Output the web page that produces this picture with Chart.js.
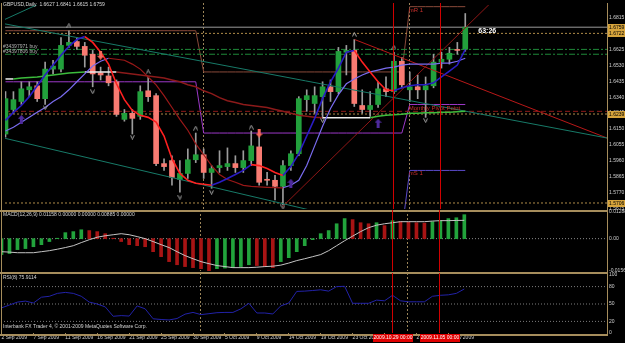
<!DOCTYPE html>
<html>
<head>
<meta charset="utf-8">
<script src="https://cdn.jsdelivr.net/npm/chart.js@4.4.0/dist/chart.umd.min.js"></script>
<style>
  html, body { margin: 0; padding: 0; background: #000; }
  #wrap { position: relative; width: 625px; height: 343px; overflow: hidden; background: #000; }
  #wrap canvas { position: absolute; left: 0; top: 0; }
</style>
</head>
<body>
<div id="wrap">
  <canvas id="priceChart" width="625" height="343"></canvas>
  <canvas id="macdChart" width="625" height="343"></canvas>
  <canvas id="rsiChart" width="625" height="343"></canvas>
</div>
<script>
// GBPUSD daily candles, 2 Sep 2009 .. 9 Nov 2009 (one slot per bar, Sunday bars included)
const opens = [1.6119,1.6266,1.6314,1.6384,1.6408,1.6331,1.6508,1.6508,1.6650,1.6673,
  1.6644,1.6597,1.6485,1.6467,1.6432,1.6207,1.6243,1.6225,1.6378,1.6349,
  1.5942,1.5960,1.5847,1.5883,1.5965,1.5995,1.5889,1.5918,1.5924,1.5942,
  1.5918,1.5960,1.6042,1.5847,1.5842,1.5806,1.5930,1.6001,1.6325,1.6302,
  1.6343,1.6402,1.6373,1.6609,1.6620,1.6290,1.6266,1.6296,1.6390,1.6373,
  1.6555,1.6384,1.6402,1.6384,1.6408,1.6550,1.6567,1.6626,1.6627];
const highs = [1.6373,1.6373,1.6432,1.6432,1.6432,1.6550,1.6561,1.6697,1.6738,1.6697,
  1.6668,1.6620,1.6520,1.6520,1.6443,1.6266,1.6266,1.6408,1.6461,1.6361,
  1.5971,1.5989,1.5960,1.6030,1.6125,1.6030,1.5930,1.6019,1.6036,1.5989,
  1.6019,1.6137,1.6119,1.5889,1.5871,1.5960,1.6019,1.6343,1.6384,1.6402,
  1.6432,1.6443,1.6638,1.6650,1.6685,1.6384,1.6373,1.6432,1.6461,1.6609,
  1.6579,1.6491,1.6473,1.6461,1.6597,1.6609,1.6638,1.6668,1.6841];
const lows = [1.6101,1.6243,1.6296,1.6343,1.6314,1.6296,1.6479,1.6491,1.6638,1.6626,
  1.6520,1.6402,1.6443,1.6408,1.6225,1.6196,1.6119,1.6207,1.6314,1.5930,
  1.5901,1.5812,1.5771,1.5853,1.5948,1.5853,1.5794,1.5889,1.5901,1.5889,
  1.5889,1.5930,1.5812,1.5812,1.5724,1.5694,1.5901,1.5989,1.6255,1.6243,
  1.6213,1.6314,1.6361,1.6473,1.6284,1.6243,1.6225,1.6278,1.6343,1.6361,
  1.6396,1.6314,1.6331,1.6219,1.6396,1.6514,1.6538,1.6597,1.6615];
const closes = [1.6331,1.6325,1.6390,1.6402,1.6331,1.6508,1.6526,1.6650,1.6668,1.6644,
  1.6591,1.6479,1.6473,1.6426,1.6237,1.6243,1.6213,1.6373,1.6343,1.5942,
  1.5924,1.5859,1.5883,1.5965,1.5995,1.5889,1.5912,1.5930,1.5942,1.5918,
  1.5960,1.6048,1.5830,1.5842,1.5806,1.5930,1.6001,1.6331,1.6349,1.6349,
  1.6402,1.6373,1.6614,1.6620,1.6302,1.6266,1.6290,1.6390,1.6373,1.6555,
  1.6414,1.6402,1.6384,1.6408,1.6550,1.6567,1.6603,1.6620,1.6759];

// moving averages
const fastMa = [1.6201,1.6249,1.6290,1.6343,1.6408,1.6473,1.6532,1.6591,1.6644,1.6685,
  1.6703,1.6668,1.6609,1.6538,1.6420,1.6325,1.6260,1.6231,1.6219,1.6190,
  1.6107,1.5971,1.5883,1.5842,1.5824,1.5818,1.5812,1.5830,1.5853,1.5877,
  1.5901,1.5936,1.5930,1.5912,1.5889,1.5871,1.5924,1.6001,1.6107,1.6213,
  1.6331,1.6432,1.6514,1.6609,1.6620,1.6550,1.6491,1.6432,1.6384,1.6378,
  1.6396,1.6408,1.6414,1.6414,1.6426,1.6461,1.6496,1.6532,1.6626];
const midMa = [1.6137,1.6160,1.6190,1.6219,1.6249,1.6278,1.6314,1.6343,1.6384,1.6432,
  1.6479,1.6526,1.6555,1.6573,1.6567,1.6561,1.6538,1.6508,1.6461,1.6414,
  1.6349,1.6278,1.6207,1.6142,1.6060,1.5995,1.5930,1.5877,1.5847,1.5830,
  1.5812,1.5806,1.5803,1.5800,1.5798,1.5797,1.5812,1.5842,1.5930,1.6048,
  1.6166,1.6272,1.6355,1.6420,1.6449,1.6473,1.6491,1.6502,1.6514,1.6520,
  1.6532,1.6538,1.6538,1.6538,1.6538,1.6544,1.6544,1.6555,1.6573];
const slowMa = [1.6449,1.6449,1.6455,1.6458,1.6461,1.6467,1.6473,1.6479,1.6485,1.6488,
  1.6491,1.6491,1.6491,1.6491,1.6491,1.6485,1.6479,1.6473,1.6467,1.6461,
  1.6455,1.6443,1.6432,1.6414,1.6402,1.6378,1.6361,1.6337,1.6319,1.6308,
  1.6296,1.6290,1.6284,1.6278,1.6266,1.6255,1.6243,1.6231,1.6225,1.6219,
  1.6216,1.6216,1.6216,1.6216,1.6216,1.6216,1.6216,1.6225,1.6231,1.6234,
  1.6237,1.6243,1.6244,1.6246,1.6247,1.6249,1.6250,1.6252,1.6255];

// fractals and signal arrows (bar index, price)
const fracUpIdx = [8, 18, 24, 31, 44, 49];
const fracUpPrice = [1.6768, 1.6491, 1.6154, 1.6160, 1.6715, 1.6638];
const fracDownIdx = [5, 11, 16, 22, 26, 35, 40, 53];
const fracDownPrice = [1.6278, 1.6373, 1.6101, 1.5741, 1.5771, 1.5682, 1.6201, 1.6201];
const sellIdx = [12, 32];
const sellPrice = [1.6591, 1.6125];
const buyIdx = [2, 36, 47];
const buyPrice = [1.6207, 1.5824, 1.6184];

// monthly pivot levels: Sep, Oct, Nov
const monthStarts = [0, 25, 51];
const mR1 = [1.6738, 1.6491, 1.6882];
const mPivot = [1.6432, 1.6125, 1.6296];
const mS1 = [null, 1.5540, 1.5901];

// horizontal levels
const bidPrice = 1.6759;
const dottedLevels = [1.6722, 1.6239, 1.5706];
const orderLevels = [1.6626, 1.6597];
const orderNames = ['#34397971 buy', '#34397806 buy'];
const stopLevel = 1.6255;
const priceBoxes = [1.6722, 1.6239, 1.5706, 1.6759];

// trend lines: [[barIndex, price], [barIndex, price]]
const tealLines = [
  [[-0.2, 1.6780], [75.9, 1.6095]],
  [[-0.2, 1.6803], [4.45, 1.6904]],
  [[-0.2, 1.6095], [38.3, 1.5665]]
];
const riseLine = [[34.9, 1.5682], [61.2, 1.6904]];
const fallLine = [[44.05, 1.6685], [75.9, 1.6095]];

// vertical red lines
const vlineIdx = [49, 55];
const vlineNames = ['2009.10.29 00:00', '2009.11.05 00:00'];

// MACD(12,26,9)
const macdHist = [-0.0077,-0.0072,-0.0053,-0.0048,-0.0039,-0.0029,-0.0014,0.0002,0.0029,0.0034,
  0.0043,0.0039,0.0034,0.0024,0.0002,-0.0014,-0.0029,-0.0034,-0.0039,-0.0063,
  -0.0087,-0.0111,-0.0126,-0.0135,-0.0140,-0.0145,-0.0156,-0.0145,-0.0142,-0.0140,
  -0.0135,-0.0126,-0.0130,-0.0135,-0.0140,-0.0111,-0.0092,-0.0063,-0.0034,-0.0005,
  0.0024,0.0039,0.0072,0.0097,0.0092,0.0077,0.0072,0.0077,0.0063,0.0087,
  0.0082,0.0080,0.0077,0.0075,0.0082,0.0087,0.0097,0.0101,0.01158];
const macdSignal = [-0.0063,-0.0065,-0.0068,-0.0068,-0.0068,-0.0063,-0.0058,-0.0051,-0.0043,-0.0034,
  -0.0019,-0.0005,0.0007,0.0014,0.0019,0.0024,0.0019,0.0010,0.0000,-0.0014,
  -0.0029,-0.0043,-0.0063,-0.0082,-0.0097,-0.0111,-0.0121,-0.0130,-0.0135,-0.0140,
  -0.0140,-0.0140,-0.0138,-0.0135,-0.0133,-0.0128,-0.0118,-0.0106,-0.0097,-0.0087,
  -0.0077,-0.0058,-0.0034,-0.0010,0.0012,0.0034,0.0053,0.0065,0.0072,0.0077,
  0.0082,0.0082,0.0082,0.0082,0.0085,0.0087,0.0087,0.0088,0.00885];
const macdTicks = [0.01288, 0, -0.01563];

// RSI(8)
const rsi = [43.3,48.3,53.3,55,51.7,61.7,63.3,68.3,70,68.3,
  63.3,53.3,50,45,28.8,30,29.2,46.7,41.7,24.5,
  23.3,22.5,25,32.5,35.5,31.7,33.3,35,35.5,35.5,
  41.7,51.2,34.5,34.5,32.8,46.7,51.7,71.7,72.2,73.3,
  74.5,72.2,80,80.5,51.2,51.2,51.2,56.7,55.5,65,
  55.5,53.8,53.8,53.8,63.3,65,65.8,68.3,75.91];
const rsiLevels = [80, 50, 20];
const rsiTicks = [100, 80, 50, 20, 0];

// axis labels
const priceTicks = [1.5675,1.5770,1.5865,1.5960,1.6055,1.6150,1.6245,1.6340,1.6435,1.6530,1.6625,1.6720,1.6815];
const dateIdx = [0,4,8,12,16,20,24,28,32,36,40,44,48,52,56];
const dateLabels = ['2 Sep 2009','7 Sep 2009','11 Sep 2009','16 Sep 2009','21 Sep 2009','25 Sep 2009',
  '30 Sep 2009','5 Oct 2009','9 Oct 2009','14 Oct 2009','19 Oct 2009','23 Oct 2009','28 Oct 2009',
  '2 Nov 2009','6 Nov 2009'];

// ---- look ----
const X_MIN = -0.063, X_MAX = 75.88;
const TAN = '#a68d5c';
const BULL = '#22a03c', BEAR = '#f87b72', WICK = '#9c9c9c';
const FONT = '"Liberation Sans", Arial, sans-serif';
const TXT = '#cfcfcf';

Chart.defaults.font.family = FONT;
Chart.defaults.font.size = 5;
Chart.defaults.color = TXT;
Chart.defaults.animation = false;
Chart.defaults.plugins.legend.display = false;
Chart.defaults.plugins.tooltip.enabled = false;

const bars = opens.map((_, i) => i);
const pts = arr => arr.map((v, i) => ({ x: i, y: v }));

function twoTone(up, down, flat) {
  return c => {
    const a = c.p0.parsed.y, b = c.p1.parsed.y;
    if (flat && Math.abs(b - a) < 0.00001) return flat;
    return b >= a ? up : down;
  };
}

function monthly(values) {
  const out = [];
  bars.forEach(i => {
    let m = 0;
    monthStarts.forEach((s, k) => { if (i >= s) m = k; });
    if (values[m] !== null) out.push({ x: i, y: values[m] });
  });
  return out;
}

function lineSet(data, color, width, order, extra) {
  return Object.assign({ type: 'line', data, borderColor: color, borderWidth: width,
    pointRadius: 0, tension: 0, order }, extra || {});
}

function hLine(v, color, dash, width, order) {
  return lineSet([{ x: X_MIN, y: v }, { x: X_MAX, y: v }], color, width, order, { borderDash: dash });
}

function segLine(seg, color, width, order) {
  return lineSet(seg.map(p => ({ x: p[0], y: p[1] })), color, width, order);
}

function arrowImage(color, up) {
  const c = document.createElement('canvas');
  c.width = 7; c.height = 9;
  const g = c.getContext('2d');
  g.fillStyle = color;
  g.beginPath();
  if (up) {
    g.moveTo(3.5, 0); g.lineTo(7, 4); g.lineTo(5, 4); g.lineTo(5, 9); g.lineTo(2, 9); g.lineTo(2, 4); g.lineTo(0, 4);
  } else {
    g.moveTo(3.5, 9); g.lineTo(7, 5); g.lineTo(5, 5); g.lineTo(5, 0); g.lineTo(2, 0); g.lineTo(2, 5); g.lineTo(0, 5);
  }
  g.closePath();
  g.fill();
  return c;
}

function fractalImage(up) {
  const c = document.createElement('canvas');
  c.width = 5; c.height = 5;
  const g = c.getContext('2d');
  g.strokeStyle = '#a4a4a4';
  g.lineWidth = 1;
  g.beginPath();
  if (up) { g.moveTo(0.5, 4.5); g.lineTo(2.5, 0.5); g.lineTo(4.5, 4.5); }
  else { g.moveTo(0.5, 0.5); g.lineTo(2.5, 4.5); g.lineTo(4.5, 0.5); }
  g.stroke();
  return c;
}

function markers(idx, prices, img) {
  return { type: 'scatter', data: idx.map((x, k) => ({ x, y: prices[k] })), pointStyle: img,
    pointRadius: 3, order: 0 };
}

function text(ctx, str, x, y, font, color, align) {
  ctx.save();
  ctx.font = font;
  ctx.fillStyle = color;
  ctx.textAlign = align || 'left';
  ctx.textBaseline = 'middle';
  ctx.fillText(str, x, y);
  ctx.restore();
}

// month separators + red vertical lines, the panel frame
function panelPlugin(extraDraw) {
  return {
    id: 'panel',
    beforeDatasetsDraw(chart) {
      const { ctx, chartArea: a, scales: { x } } = chart;
      ctx.save();
      ctx.strokeStyle = '#9a8458';
      ctx.setLineDash([2, 2]);
      ctx.lineWidth = 1;
      monthStarts.slice(1).forEach(i => {
        const px = Math.round(x.getPixelForValue(i)) - 0.5;
        ctx.beginPath(); ctx.moveTo(px, a.top - 2); ctx.lineTo(px, a.bottom); ctx.stroke();
      });
      ctx.restore();
    },
    afterDatasetsDraw(chart) {
      const { ctx, chartArea: a, scales: { x } } = chart;
      ctx.save();
      ctx.strokeStyle = '#d00000';
      ctx.lineWidth = 1;
      vlineIdx.forEach(i => {
        const px = Math.round(x.getPixelForValue(i)) - 0.5;
        ctx.beginPath(); ctx.moveTo(px, a.top - 2); ctx.lineTo(px, a.bottom); ctx.stroke();
      });
      ctx.restore();
    },
    afterDraw(chart) {
      const { ctx, chartArea: a } = chart;
      ctx.save();
      ctx.fillStyle = TAN;
      ctx.fillRect(0, a.bottom + 1, a.right + 1, 2);
      ctx.fillRect(a.right, a.top - 2, 1, a.bottom - a.top + 4);
      ctx.fillRect(1, a.top - 2, 1, a.bottom - a.top + 4);
      ctx.restore();
      if (extraDraw) extraDraw(chart);
    }
  };
}

function rightAxis(min, max, ticks, fmt) {
  return {
    position: 'right', min, max,
    grid: { display: false, drawTicks: false },
    border: { display: false },
    afterFit: s => { s.width = 18; },
    afterBuildTicks: s => { s.ticks = ticks.map(v => ({ value: v })); },
    ticks: { padding: 2, autoSkip: false, color: TXT, font: { size: 5 }, callback: fmt }
  };
}

const hiddenX = { type: 'linear', min: X_MIN, max: X_MAX, offset: false, display: false };

// ---- price panel ----
const mainDraw = chart => {
  const { ctx, chartArea: a, scales: { x, y } } = chart;
  text(ctx, 'GBPUSD,Daily  1.6627 1.6841 1.6615 1.6759', 3, 5, '5px ' + FONT, '#dcdcdc');
  orderLevels.forEach((v, k) => text(ctx, orderNames[k], 3, y.getPixelForValue(v) - 3, '5px ' + FONT, '#b4b4b4'));
  const nx = x.getPixelForValue(monthStarts[2]) - 1;
  const lbl = '6px ' + FONT;
  text(ctx, 'mR 1', nx, y.getPixelForValue(mR1[2]) + 3.5, lbl, '#c8302c');
  text(ctx, 'Monthly Pivot Point', nx, y.getPixelForValue(mPivot[2]) + 4, lbl, '#c8302c');
  text(ctx, 'mS 1', nx, y.getPixelForValue(mS1[2]) + 3, lbl, '#c8302c');
  const last = bars.length - 1;
  text(ctx, '63:26', x.getPixelForValue(last) + 13, y.getPixelForValue(bidPrice) + 4, 'bold 7px ' + FONT, '#ffffff');
  priceBoxes.forEach(p => {
    const py = Math.round(y.getPixelForValue(p));
    ctx.fillStyle = '#d6a43c';
    ctx.fillRect(a.right + 1, py - 3, 18, 7);
    text(ctx, p.toFixed(4), a.right + 2, py + 0.5, '5px ' + FONT, '#000000');
  });
};

new Chart(document.getElementById('priceChart'), {
  type: 'bar',
  data: {
    datasets: [
      markers(fracUpIdx, fracUpPrice, fractalImage(true)),
      markers(fracDownIdx, fracDownPrice, fractalImage(false)),
      markers(sellIdx, sellPrice, arrowImage('#fa6a5c', false)),
      markers(buyIdx, buyPrice, arrowImage('#4e2a9c', true)),
      lineSet(pts(fastMa), '#ff2020', 1.6, 1, { segment: { borderColor: twoTone('#2a1cc4', '#ff2020') } }),
      lineSet(pts(midMa), '#7a6cf0', 1.2, 2, { segment: { borderColor: twoTone('#7a6cf0', '#9a1818') } }),
      lineSet(pts(slowMa), '#3cbc3c', 1.5, 3, { segment: { borderColor: twoTone('#3cbc3c', '#8c1a1a', '#ececec') } }),
      ...tealLines.map(s => segLine(s, '#177a68', 1, 4)),
      segLine(riseLine, '#8e1616', 1, 4),
      segLine(fallLine, '#b81818', 1, 4),
      { type: 'bar', data: bars.map(i => ({ x: i, y: [opens[i], closes[i]] })),
        backgroundColor: bars.map(i => closes[i] >= opens[i] ? BULL : BEAR),
        barThickness: 5, minBarLength: 1, grouped: false, borderWidth: 0, order: 5 },
      { type: 'bar', data: bars.map(i => ({ x: i, y: [lows[i], highs[i]] })),
        backgroundColor: WICK, barThickness: 1, grouped: false, borderWidth: 0, order: 6 },
      hLine(bidPrice, '#9a9a9a', [], 1, 7),
      ...dottedLevels.map(v => hLine(v, '#b08c48', [2, 2], 1, 7)),
      ...orderLevels.map(v => hLine(v, '#1f8a3a', [6, 2, 2, 2], 1, 7)),
      hLine(stopLevel, '#8e1a1a', [5, 3], 1, 7),
      lineSet(monthly(mR1), '#8a4a3a', 1, 8),
      lineSet(monthly(mPivot), '#9c38c8', 1, 8),
      lineSet(monthly(mS1), '#5a4ac8', 1, 8)
    ]
  },
  options: {
    responsive: false,
    devicePixelRatio: 1,
    layout: { padding: { left: 1, top: 2, right: 0, bottom: 134 } },
    scales: {
      x: hiddenX,
      y: rightAxis(1.5670, 1.6892, priceTicks, v => v.toFixed(4))
    }
  },
  plugins: [panelPlugin(mainDraw)]
});

// ---- MACD panel ----
new Chart(document.getElementById('macdChart'), {
  type: 'bar',
  data: {
    datasets: [
      lineSet(pts(macdSignal), '#c4c4c4', 1, 0),
      { type: 'bar', data: pts(macdHist),
        backgroundColor: macdHist.map((v, i) => (i === 0 || v >= macdHist[i - 1]) ? '#22a33c' : '#a81414'),
        barThickness: 3, grouped: false, borderWidth: 0, order: 1 },
      hLine(0, '#8a8a8a', [1, 2], 1, 2)
    ]
  },
  options: {
    responsive: false,
    devicePixelRatio: 1,
    layout: { padding: { left: 1, top: 212, right: 0, bottom: 72 } },
    scales: {
      x: hiddenX,
      y: rightAxis(-0.01563, 0.01288, macdTicks, v => v === 0 ? '0.00' : v.toFixed(5))
    }
  },
  plugins: [panelPlugin(chart => {
    text(chart.ctx, 'MACD(12,26,9) 0.01158 0.00000 0.00000 0.00885 0.00000', 3, 215, '5px ' + FONT, '#d4d4d4');
  })]
});

// ---- RSI panel ----
new Chart(document.getElementById('rsiChart'), {
  type: 'line',
  data: {
    datasets: [
      lineSet(pts(rsi), '#2222a8', 1, 0),
      ...rsiLevels.map(v => hLine(v, '#7c7c7c', [1, 2], 1, 1))
    ]
  },
  options: {
    responsive: false,
    devicePixelRatio: 1,
    layout: { padding: { left: 1, top: 275, right: 0, bottom: 0 } },
    scales: {
      x: {
        type: 'linear', min: X_MIN, max: X_MAX, offset: false, position: 'bottom',
        grid: { display: true, drawOnChartArea: false, drawTicks: true, tickLength: 2, color: TAN },
        border: { display: false },
        afterFit: s => { s.height = 10; },
        afterBuildTicks: s => { s.ticks = dateIdx.map(v => ({ value: v })); },
        ticks: { align: 'start', autoSkip: false, maxRotation: 0, padding: 0, color: TXT, font: { size: 5 },
          callback: (v, k) => dateLabels[k] }
      },
      y: rightAxis(0, 100, rsiTicks, v => String(v))
    }
  },
  plugins: [panelPlugin(chart => {
    const { ctx, chartArea: a, scales: { x } } = chart;
    text(ctx, 'RSI(8) 75.9114', 3, 278, '5px ' + FONT, '#d4d4d4');
    text(ctx, 'Interbank FX Trader 4, \u00a9 2001-2009 MetaQuotes Software Corp.', 3, 327, '5px ' + FONT, '#d4d4d4');
    vlineIdx.forEach((i, k) => {
      const px = Math.round(x.getPixelForValue(i));
      ctx.fillStyle = '#e00000';
      ctx.fillRect(px - 20, a.bottom + 1, 40, 8);
      text(ctx, vlineNames[k], px, a.bottom + 5, '5px ' + FONT, '#ffffff', 'center');
    });
  })]
});
</script>
</body>
</html>
